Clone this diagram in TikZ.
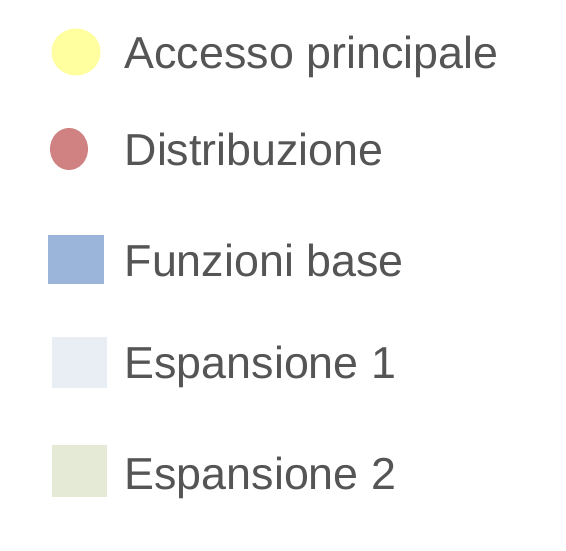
\documentclass[tikz,border=0pt]{standalone}
\usepackage{fontspec}
\setmainfont{Liberation Sans}
\usetikzlibrary{shapes.geometric}
\definecolor{cyel}{HTML}{FFFFA0}
\definecolor{cred}{HTML}{D08282}
\definecolor{cblue}{HTML}{9AB4DA}
\definecolor{clblue}{HTML}{E9EEF4}
\definecolor{cgreen}{HTML}{E5EAD6}
\definecolor{ctext}{HTML}{555555}
\tikzset{
  swatch/.style={draw=none, inner sep=0pt, outer sep=0pt},
  label/.style={anchor=base west, inner sep=0pt, text=ctext, font=\fontsize{44.8}{50}\selectfont}
}
\begin{document}
\begin{tikzpicture}[x=1pt,y=-1pt]
\useasboundingbox (0,0) rectangle (566,551);
\fill[white] (0,0) rectangle (566,551);
\node[swatch, ellipse, fill=cyel, minimum width=49pt, minimum height=47pt] (s1) at (76,52) {};
\node[swatch, ellipse, fill=cred, minimum width=38pt, minimum height=42pt] (s2) at (69,149) {};
\node[swatch, rectangle, fill=cblue, minimum width=56pt, minimum height=49pt] (s3) at (76,259.5) {};
\node[swatch, rectangle, fill=clblue, minimum width=55pt, minimum height=51pt] (s4) at (79.5,362.5) {};
\node[swatch, rectangle, fill=cgreen, minimum width=55pt, minimum height=52pt] (s5) at (79.5,471) {};
\node[label] (t1) at (124.5,68.3) {Accesso principale};
\node[label] (t2) at (124.5,165.7) {Distribuzione};
\node[label] (t3) at (124.5,276.7) {Funzioni base};
\node[label] (t4) at (124.5,378.3) {Espansione 1};
\node[label] (t5) at (124.5,489) {Espansione 2};
\end{tikzpicture}
\end{document}
